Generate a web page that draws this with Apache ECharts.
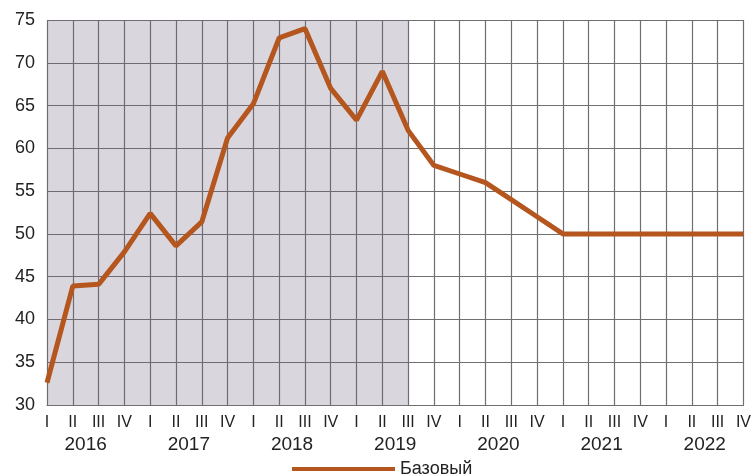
<!DOCTYPE html>
<html>
<head>
<meta charset="utf-8">
<script src="https://cdn.jsdelivr.net/npm/echarts@6/dist/echarts.min.js"></script>
<style>
  html, body { margin: 0; padding: 0; background: #fff; }
  #main { width: 754px; height: 474px; }
</style>
</head>
<body>
<div id="main"></div>
<script>
// кварталы 2016 I ... 2022 IV
var quarters = [];
var romans = ['I', 'II', 'III', 'IV'];
var years = ['2016', '2017', '2018', '2019', '2020', '2021', '2022'];
for (var y = 0; y < years.length; y++) {
  for (var q = 0; q < 4; q++) quarters.push(romans[q]);
}
// базовый сценарий
var baseValues = [32.6, 43.9, 44.1, 47.9, 52.4, 48.6, 51.4, 61.2,
  65.2, 72.9, 74.0, 67.0, 63.3, 69.0, 62.1, 58.0,
  57.0, 56.0, 54.0, 52.0, 50, 50, 50, 50,
  50, 50, 50, 50];
// фактические данные (серый фон) до 2019 III
var shadeFrom = 0;
var shadeTo = 14;
// подписи годов в центре каждой группы из 4 кварталов
var yearPos = [1.5, 5.5, 9.5, 13.5, 17.5, 21.5, 25.5];

var font = 'Liberation Sans, Arial, sans-serif';
var gridColor = '#6f6f6f';

var chart = echarts.init(document.getElementById('main'));
chart.setOption({
  animation: false,
  textStyle: { fontFamily: font },
  grid: { left: 47, right: 9, top: 20, bottom: 69 },
  legend: {
    left: 287,
    top: 455,
    itemWidth: 103,
    itemHeight: 4,
    itemGap: 8,
    textStyle: { fontSize: 18, color: '#222', fontFamily: font },
    data: [{ name: 'Базовый', icon: 'rect' }]
  },
  xAxis: [{
    type: 'category',
    data: quarters,
    boundaryGap: false,
    axisLine: { show: true, lineStyle: { color: gridColor, width: 1 } },
    axisTick: { show: false },
    axisLabel: { interval: 0, margin: 10, fontSize: 16, color: '#222' },
    splitLine: { show: true, interval: 0, lineStyle: { color: gridColor, width: 1.2 } }
  }, {
    type: 'value',
    position: 'bottom',
    min: 0,
    max: quarters.length - 1,
    offset: 22,
    axisLine: { show: false },
    axisTick: { show: false },
    splitLine: { show: false },
    axisLabel: {
      customValues: yearPos,
      margin: 8,
      fontSize: 19,
      color: '#222',
      formatter: function (v) {
        return years[Math.round((v - 1.5) / 4)];
      }
    }
  }],
  yAxis: {
    type: 'value',
    min: 30,
    max: 75,
    interval: 5,
    axisLine: { show: false },
    axisTick: { show: false },
    axisLabel: { margin: 12, fontSize: 18, color: '#222' },
    splitLine: { lineStyle: { color: gridColor, width: 1.2 } }
  },
  series: [{
    name: 'shade',
    type: 'line',
    data: [],
    silent: true,
    markArea: {
      silent: true,
      itemStyle: { color: 'rgba(110,100,125,0.26)' },
      data: [[{ xAxis: shadeFrom }, { xAxis: shadeTo }]]
    }
  }, {
    name: 'Базовый',
    type: 'line',
    data: baseValues,
    symbol: 'none',
    lineStyle: { color: '#b5561f', width: 5 },
    itemStyle: { color: '#b5561f' }
  }]
});
</script>
</body>
</html>
